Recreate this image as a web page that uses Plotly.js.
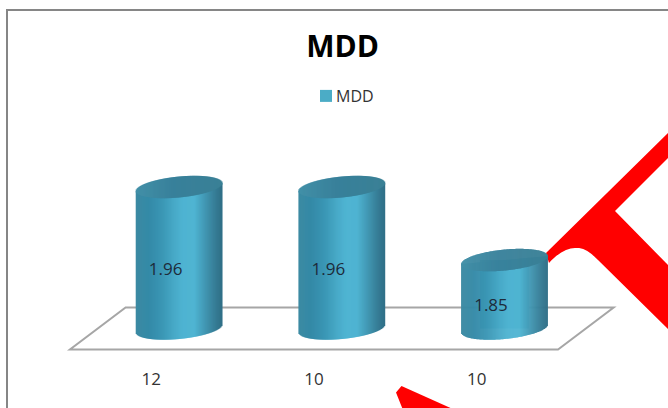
<!DOCTYPE html>
<html>
<head>
<meta charset="utf-8">
<script src="https://cdn.plot.ly/plotly-3.0.1.min.js"></script>
<style>html,body{margin:0;padding:0;background:#fff;overflow:hidden}#chart{width:668px;height:408px}</style>
</head>
<body>
<div id="chart"></div>
<script>
// MDD by group, drawn as oblique cylinders standing on a floor
const seriesName = 'MDD';
const categories = ['12', '10', '10'];
const mddValues = [1.96, 1.96, 1.85];

const WIDTH = 668, HEIGHT = 408, PLOT_BOTTOM = 358;
const xRange = [-0.93, 3.176];
const yRange = [1.7025, 2.2416];
const pxX = WIDTH / (xRange[1] - xRange[0]);
const pxY = PLOT_BOTTOM / (yRange[1] - yRange[0]);

const baseValue = 1.7469;      // where the cylinders and the floor centre sit
const depthShift = 0.171;      // oblique offset of a bar from its tick
const halfWidth = 0.265;       // cylinder half width, in category units
const capMinor = 10.5 / pxY;   // semi-minor axis of the end ellipses
const capTilt = 4 / pxY;       // rise of the ellipses from left to right
const floorDepth = 21 / pxY;

const bodyStops = [[0, [60, 138, 162]], [0.15, [52, 138, 167]], [0.3, [58, 150, 180]], [0.45, [72, 170, 200]],
  [0.55, [79, 180, 210]], [0.68, [79, 180, 210]], [0.8, [66, 152, 180]], [0.92, [54, 125, 150]], [1, [47, 111, 135]]];
const capStops = [[0, [66, 144, 168]], [0.45, [56, 128, 154]], [1, [58, 128, 150]]];

function shade(stops, t) {
  for (let i = 1; i < stops.length; i++) {
    if (t <= stops[i][0]) {
      const a = stops[i - 1], b = stops[i];
      const f = (t - a[0]) / (b[0] - a[0]);
      const c = a[1].map((v, k) => Math.round(v + (b[1][k] - v) * f));
      return `rgb(${c.join(',')})`;
    }
  }
  return `rgb(${stops[stops.length - 1][1].join(',')})`;
}

// Cylinders are built from one-pixel columns so the shading runs across the width
const body = { x: [], y: [], base: [], color: [] };
const cap = { x: [], y: [], base: [], color: [] };
const stripCount = Math.round(2 * halfWidth * pxX);
const stripWidth = 1.6 / pxX;
mddValues.forEach((value, i) => {
  const cx = i + depthShift;
  for (let s = 0; s < stripCount; s++) {
    const t = (s + 0.5) / stripCount;
    const u = 2 * t - 1;
    const arc = capMinor * Math.sqrt(1 - u * u);
    const skew = capTilt * u;
    const x = cx + u * halfWidth;
    const lower = baseValue + skew - arc;
    const mid = value + skew;
    body.x.push(x); body.base.push(lower); body.y.push(mid - lower); body.color.push(shade(bodyStops, t));
    cap.x.push(x); cap.base.push(mid - arc); cap.y.push(2 * arc); cap.color.push(shade(capStops, t));
  }
});

const traces = [
  { type: 'bar', name: seriesName, x: mddValues.map((v, i) => i + depthShift), y: mddValues.map(v => v - baseValue),
    base: baseValue, width: 0.3, marker: { color: '#4BACC6', line: { width: 0 } }, hoverinfo: 'skip', showlegend: true },
  { type: 'bar', x: body.x, y: body.y, base: body.base, width: stripWidth,
    marker: { color: body.color, line: { width: 0 } }, hoverinfo: 'skip', showlegend: false },
  { type: 'bar', x: cap.x, y: cap.y, base: cap.base, width: stripWidth,
    marker: { color: cap.color, line: { width: 0 } }, hoverinfo: 'skip', showlegend: false },
  { type: 'scatter', mode: 'text', x: mddValues.map((v, i) => i + depthShift - 13.5 / pxX),
    y: mddValues.map(v => (v + baseValue) / 2 - 12.5 / pxY), text: mddValues.map(v => v.toFixed(2)),
    textposition: 'middle center', textfont: { family: 'Open Sans', size: 17, color: '#1d2b3a' },
    hoverinfo: 'skip', showlegend: false }
];

// Paper coordinates from a position measured from the page's top-left corner
const paperX = px => px / WIDTH;
const paperY = py => (PLOT_BOTTOM - py) / PLOT_BOTTOM;
const paperPath = cmds => cmds.map(c => c[0] + ' ' + c.slice(1).map((v, i) => (i % 2 ? paperY(v) : paperX(v))).join(' ')).join(' ');

const floorLeft = -0.5, floorRight = 2.5, floorSkew = 2 * depthShift;
const yFront = baseValue - floorDepth, yBack = baseValue + floorDepth;

const shapes = [
  { type: 'path', xref: 'paper', yref: 'paper', layer: 'below', fillcolor: 'rgba(0,0,0,0)',
    line: { color: '#868686', width: 2 }, path: paperPath([['M', 7, 420], ['L', 7, 10], ['L', 680, 10]]) },
  { type: 'path', xref: 'paper', yref: 'paper', layer: 'below', fillcolor: '#FF0000', line: { width: 0 },
    path: paperPath([['M', 668, 133], ['L', 546, 253], ['L', 549, 263], ['C', 559, 252, 569, 247, 577, 248],
      ['C', 584, 248, 590, 252, 598, 260], ['L', 668, 329], ['L', 668, 265], ['L', 615, 211], ['L', 668, 158]]) + ' Z' },
  { type: 'path', xref: 'paper', yref: 'paper', layer: 'below', fillcolor: '#FF0000', line: { width: 0 },
    path: paperPath([['M', 396, 392.5], ['L', 401.5, 386], ['L', 455, 410], ['L', 403, 410]]) + ' Z' },
  { type: 'path', xref: 'x', yref: 'y', layer: 'below', fillcolor: 'rgba(0,0,0,0)',
    line: { color: '#A6A6A6', width: 2 },
    path: `M ${floorLeft} ${yFront} L ${floorRight} ${yFront} L ${floorRight + floorSkew} ${yBack} L ${floorLeft + floorSkew} ${yBack} Z` }
];

const layout = {
  width: WIDTH, height: HEIGHT,
  margin: { l: 0, r: 0, t: 0, b: HEIGHT - PLOT_BOTTOM, pad: 0 },
  paper_bgcolor: '#fff', plot_bgcolor: 'rgba(0,0,0,0)',
  barmode: 'overlay',
  title: { text: '<b>MDD</b>', x: 342.5 / WIDTH, xref: 'paper', xanchor: 'center', y: 1 - 46 / HEIGHT, yref: 'container', yanchor: 'middle',
    font: { family: 'Open Sans', size: 30, color: '#000' } },
  legend: { orientation: 'h', x: paperX(311), xanchor: 'left', y: paperY(96), yanchor: 'middle', indentation: -15,
    font: { family: 'Open Sans', size: 16, color: '#333' }, bgcolor: 'rgba(0,0,0,0)' },
  xaxis: { range: xRange, tickmode: 'array', tickvals: categories.map((c, i) => i), ticktext: categories,
    showgrid: false, zeroline: false, showline: false, ticks: '', ticklabelstandoff: 9,
    tickfont: { family: 'Open Sans', size: 17, color: '#333' }, fixedrange: true },
  yaxis: { range: yRange, visible: false, fixedrange: true },
  shapes: shapes,
  showlegend: true
};

Plotly.newPlot('chart', traces, layout, { displayModeBar: false, staticPlot: true }).then(() => {
  // Bring the legend swatch in next to its label
  const swatch = document.querySelector('.legend .legendsymbols');
  if (swatch) swatch.setAttribute('transform', 'translate(10,0)');
});
</script>
</body>
</html>
